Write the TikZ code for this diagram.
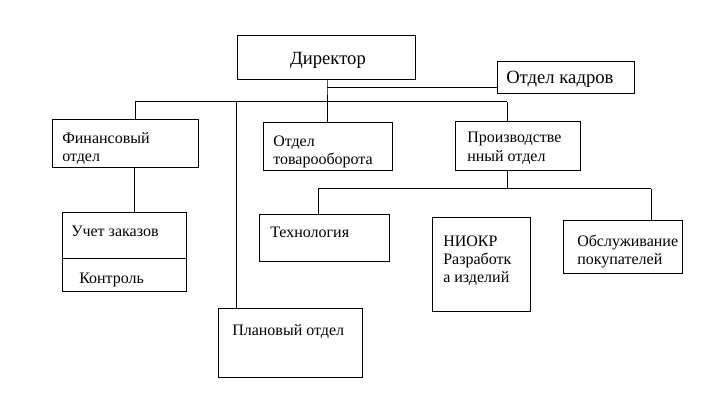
\documentclass[tikz,border=0pt]{standalone}
\usepackage{fontspec}
\setmainfont{Liberation Serif}
\begin{document}
\begin{tikzpicture}[x=0.75pt,y=-0.75pt,
  box/.style={draw,line width=0.75pt,rectangle,inner sep=0pt,anchor=center},
  conn/.style={draw,line width=0.75pt},
  lbl/.style={anchor=base west,inner sep=0pt,font=\fontsize{12}{14}\selectfont},
  big/.style={inner sep=0pt,font=\fontsize{14}{16}\selectfont}]
\useasboundingbox[fill=white] (0,0) rectangle (707,413);
% boxes
\node[box,minimum width=178*0.75pt,minimum height=44*0.75pt] (dir) at (326,58) {};
\node[box,minimum width=137*0.75pt,minimum height=32*0.75pt] (kadr) at (565.5,78) {};
\node[box,minimum width=146*0.75pt,minimum height=48*0.75pt] (fin) at (125,144) {};
\node[box,minimum width=129*0.75pt,minimum height=48*0.75pt] (tov) at (327.5,147) {};
\node[box,minimum width=125*0.75pt,minimum height=49*0.75pt] (proizv) at (517.5,146.5) {};
\node[box,minimum width=124*0.75pt,minimum height=79*0.75pt] (uchet) at (124,252.5) {};
\node[box,minimum width=130*0.75pt,minimum height=47*0.75pt] (tech) at (324,238.5) {};
\node[box,minimum width=98*0.75pt,minimum height=94*0.75pt] (niokr) at (481,265) {};
\node[box,minimum width=119*0.75pt,minimum height=53*0.75pt] (obsl) at (622.5,247.5) {};
\node[box,minimum width=144*0.75pt,minimum height=68*0.75pt] (plan) at (290,343) {};
% divider in uchet
\coordinate (dv) at (62,259);
\draw[conn] (dv) -- (dv -| uchet.east);
% labels
\node[big,anchor=base] (tdir) at (328,65) {Директор};
\node[big,anchor=base west] (tkadr) at (506,84) {Отдел кадров};
\node[lbl] (tfin1) at (62,144) {Финансовый};
\node[lbl] (tfin2) at (62,162) {отдел};
\node[lbl] (ttov1) at (273,147) {Отдел};
\node[lbl] (ttov2) at (273,165) {товарооборота};
\node[lbl] (tpr1) at (467,143) {Производстве};
\node[lbl] (tpr2) at (467,162) {нный отдел};
\node[lbl] (tuch) at (71,237) {Учет заказов};
\node[lbl] (tkon) at (79,284) {Контроль};
\node[lbl] (ttech) at (270,238) {Технология};
\node[lbl] (tni1) at (443,247) {НИОКР};
\node[lbl] (tni2) at (443,265) {Разработк};
\node[lbl] (tni3) at (443,283) {а изделий};
\node[lbl] (tob1) at (577,247) {Обслуживание};
\node[lbl] (tob2) at (577,265) {покупателей};
\node[lbl] (tpl) at (232,336) {Плановый отдел};
% connectors
\coordinate (jk) at (327,88);
\coordinate (bus) at (327,102);
\coordinate (bl) at (135,102);
\coordinate (br) at (507,102);
\coordinate (bp) at (236,102);
\draw[conn] (dir.south -| jk) -- (jk) -- (bus);
\draw[conn] (jk) -- (jk -| kadr.west);
\draw[conn] (bl) -- (br);
\draw[conn] (bl) -- (bl |- fin.north);
\draw[conn] (bp) -- (bp |- plan.north);
\draw[conn] (bus) -- (bus |- tov.north);
\draw[conn] (br) -- (br |- proizv.north);
\coordinate (fu) at (134,168);
\draw[conn] (fu |- fin.south) -- (fu |- uchet.north);
\coordinate (b2) at (507,189);
\coordinate (b2l) at (318,189);
\coordinate (b2r) at (651,189);
\draw[conn] (b2 |- proizv.south) -- (b2);
\draw[conn] (b2l) -- (b2r);
\draw[conn] (b2l) -- (b2l |- tech.north);
\draw[conn] (b2r) -- (b2r |- obsl.north);
\end{tikzpicture}
\end{document}
